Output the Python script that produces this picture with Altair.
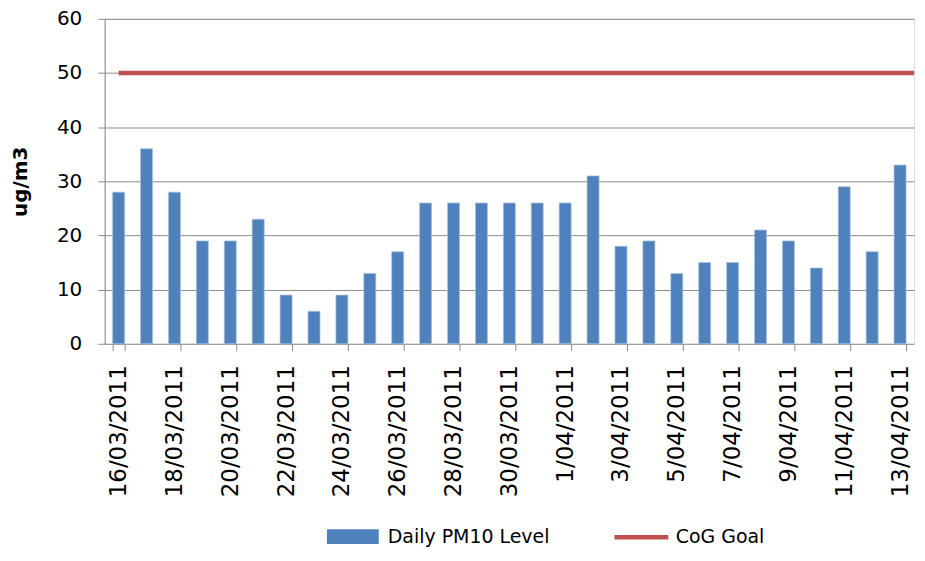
import altair as alt
import pandas as pd

dates = ["16/03/2011", "17/03/2011", "18/03/2011", "19/03/2011", "20/03/2011",
         "21/03/2011", "22/03/2011", "23/03/2011", "24/03/2011", "25/03/2011",
         "26/03/2011", "27/03/2011", "28/03/2011", "29/03/2011", "30/03/2011",
         "31/03/2011", "1/04/2011", "2/04/2011", "3/04/2011", "4/04/2011",
         "5/04/2011", "6/04/2011", "7/04/2011", "8/04/2011", "9/04/2011",
         "10/04/2011", "11/04/2011", "12/04/2011", "13/04/2011"]
pm10 = [28, 36, 28, 19, 19, 23, 9, 6, 9, 13, 17, 26, 26, 26, 26, 26, 26,
        31, 18, 19, 13, 15, 15, 21, 19, 14, 29, 17, 33]
goal_level = 50
series_names = ["Daily PM10 Level", "CoG Goal"]
series_colors = ["#4F81BD", "#C0504D"]
y_ticks = [0, 10, 20, 30, 40, 50, 60]
shown_labels = dates[::2]

bars_df = pd.DataFrame({"date": dates, "value": pm10, "series": series_names[0]})
goal_df = pd.DataFrame({"start": [dates[0]], "value": [goal_level],
                        "series": [series_names[1]]})

FONT = "DejaVu Sans"
GRID = "#8C8C8C"

x_scale = alt.Scale(domain=dates, paddingInner=0.57, paddingOuter=0.285)
y_scale = alt.Scale(domain=[0, 60], nice=False)

# legend symbols: unit = sqrt(225)/2 = 7.5 px
rect_path = "M-1,-1L5.93,-1L5.93,1L-1,1Z"   # 52 x 15 px
line_path = "M-1,0L6.2,0"                   # 54 px long

bars = alt.Chart(bars_df).mark_bar(stroke="#A9C1E0", strokeWidth=0.7).encode(
    x=alt.X("date:O", sort=dates, scale=x_scale, title=None,
            axis=alt.Axis(values=shown_labels, labelAngle=-90, tickBand="extent",
                          labelFont=FONT, labelFontSize=23, labelColor="black",
                          labelPadding=14, tickSize=7, tickColor=GRID,
                          domain=False, grid=False)),
    y=alt.Y("value:Q", scale=y_scale, title="ug/m3",
            axis=alt.Axis(values=y_ticks, grid=True, gridColor=GRID,
                          domainColor=GRID, tickColor=GRID, tickSize=7,
                          labelFont=FONT, labelFontSize=20, labelColor="black",
                          labelPadding=16, titleFont=FONT, titleFontSize=20,
                          titleFontWeight="bold", titleColor="black",
                          titlePadding=26)),
    fill=alt.Fill("series:N",
                  scale=alt.Scale(domain=[series_names[0]], range=[series_colors[0]]),
                  legend=alt.Legend(
                      title=None, orient="none", direction="horizontal",
                      legendX=221, legendY=510, symbolType=rect_path,
                      symbolSize=225, symbolStrokeWidth=0, labelOffset=44,
                      labelLimit=400,
                      labelFont=FONT, labelFontSize=19, labelColor="black")),
)

goal = alt.Chart(goal_df).mark_rule(strokeWidth=4.5, strokeCap="butt").encode(
    x=alt.X("start:O", sort=dates, scale=x_scale),
    x2=alt.value("width"),
    y=alt.Y("value:Q", scale=y_scale),
    stroke=alt.Stroke("series:N",
                      scale=alt.Scale(domain=[series_names[1]], range=[series_colors[1]]),
                      legend=alt.Legend(
                          title=None, orient="none", direction="horizontal",
                          legendX=509, legendY=510, symbolType=line_path,
                          symbolSize=225, symbolStrokeWidth=4.5, labelOffset=44,
                          labelLimit=400,
                          labelFont=FONT, labelFontSize=19, labelColor="black")),
)

chart = alt.layer(bars, goal).resolve_scale(fill="independent", stroke="independent").properties(
    width=812, height=326,
    padding={"left": 2, "top": 0, "right": 0, "bottom": 0}
).configure_view(stroke=None).configure(background="white")

chart.save("out.html", embed_options={"renderer": "svg", "actions": False})
